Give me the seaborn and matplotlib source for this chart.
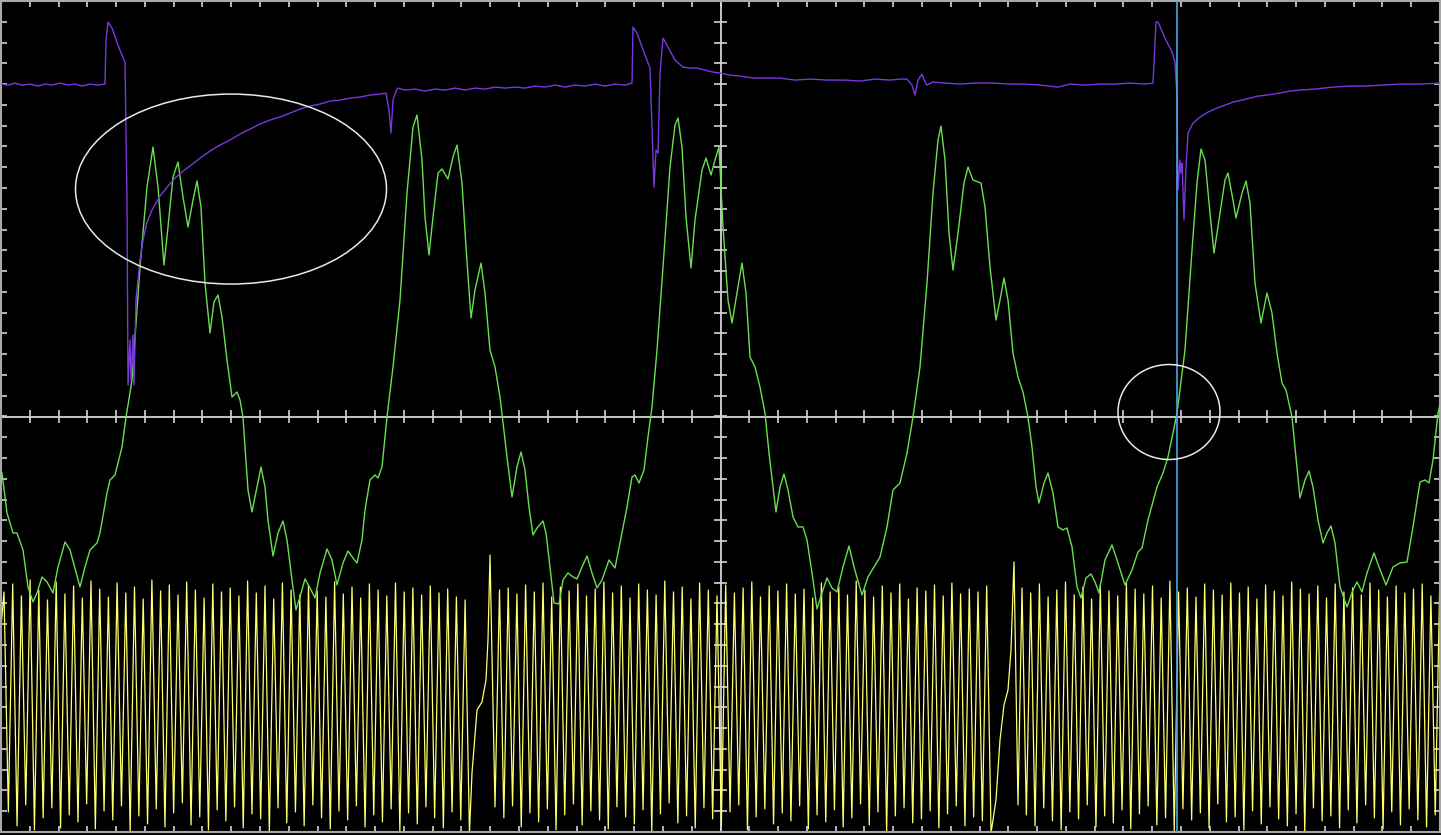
import numpy as np
import pandas as pd
import matplotlib
matplotlib.use("Agg")
import matplotlib.pyplot as plt
from matplotlib.patches import Ellipse
import seaborn as sns

# screen readings taken off the scope picture: time in screen columns, level in screen rows
# (converted to graticule divisions below)

# green trace
green_x = [0, 2, 7, 13, 17, 23, 28, 33, 37, 42, 47, 53, 58, 65, 70, 80, 85, 90, 97, 100,
           107, 110, 115, 118, 122, 126, 130, 132, 140, 147, 153, 158, 164, 168, 173, 178, 183,
           188, 193, 197, 201, 205, 210, 214, 218, 222, 227, 232, 237, 240, 243, 245, 248, 252,
           257, 261, 265, 268, 273, 278, 283, 287, 292, 296, 300, 305, 310, 315, 320, 327, 332,
           337, 343, 348, 353, 357, 362, 365, 370, 375, 378, 382, 387, 393, 400, 407, 413, 417,
           422, 425, 429, 433, 438, 442, 448, 453, 457, 462, 466, 471, 475, 481, 485, 490, 495,
           500, 503, 507, 512, 517, 521, 525, 529, 533, 537, 543, 546, 550, 554, 559, 563, 568,
           573, 577, 582, 587, 592, 597, 602, 609, 615, 620, 627, 632, 635, 639, 644, 648, 652,
           657, 663, 670, 675, 678, 682, 686, 691, 695, 702, 706, 711, 715, 719, 723, 728, 732,
           737, 742, 746, 750, 755, 760, 765, 769, 776, 780, 784, 788, 793, 798, 803, 807, 812,
           817, 822, 827, 832, 837, 843, 849, 854, 862, 868, 880, 887, 893, 900, 907, 913, 920,
           927, 933, 938, 941, 945, 949, 953, 958, 964, 968, 973, 981, 985, 990, 996, 1000, 1004,
           1008, 1013, 1018, 1023, 1028, 1032, 1036, 1039, 1044, 1048, 1053, 1058, 1063, 1067,
           1072, 1077, 1081, 1086, 1091, 1095, 1099, 1105, 1112, 1117, 1125, 1132, 1138, 1142,
           1148, 1157, 1163, 1168, 1173, 1177, 1185, 1192, 1197, 1201, 1205, 1210, 1214, 1220,
           1225, 1228, 1233, 1236, 1242, 1246, 1250, 1255, 1261, 1267, 1272, 1277, 1282, 1286,
           1292, 1296, 1300, 1305, 1309, 1313, 1318, 1323, 1327, 1331, 1335, 1340, 1347, 1353,
           1357, 1362, 1367, 1374, 1379, 1386, 1393, 1400, 1407, 1413, 1420, 1425, 1429, 1433,
           1438, 1441]
green_y = [470, 473, 513, 533, 533, 550, 587, 602, 593, 577, 582, 593, 567, 542, 550, 587, 567, 550, 543, 533,
           493, 480, 475, 463, 447, 417, 393, 380, 267, 187, 147, 187, 265, 227, 177, 162, 197,
           227, 200, 181, 207, 283, 333, 302, 295, 317, 360, 397, 392, 400, 417, 447, 490, 512,
           487, 467, 487, 520, 556, 533, 521, 540, 580, 610, 597, 579, 588, 598, 573, 549, 560,
           585, 563, 551, 558, 563, 540, 510, 480, 475, 478, 467, 417, 367, 300, 193, 127, 115,
           160, 217, 255, 217, 173, 169, 179, 157, 145, 183, 247, 318, 290, 263, 293, 350, 367,
           397, 423, 457, 497, 467, 452, 470, 507, 535, 528, 521, 533, 567, 603, 604, 580, 573,
           577, 579, 567, 556, 573, 588, 580, 560, 568, 543, 507, 477, 475, 483, 470, 437, 407,
           350, 267, 167, 125, 118, 147, 217, 268, 220, 170, 158, 175, 160, 147, 227, 300, 323,
           293, 263, 293, 357, 367, 387, 413, 453, 512, 487, 474, 490, 517, 527, 527, 540, 573,
           609, 593, 578, 588, 592, 567, 546, 567, 595, 577, 557, 527, 490, 483, 453, 417, 367,
           283, 193, 140, 126, 160, 233, 270, 233, 183, 167, 180, 183, 207, 267, 320, 300, 278,
           300, 353, 377, 392, 417, 447, 487, 503, 483, 473, 493, 527, 530, 528,
           547, 587, 598, 578, 574, 582, 593, 560, 545, 560, 585, 570, 552, 548,
           520, 487, 473, 457, 433, 413, 350, 250, 183, 149, 160, 213, 253, 213,
           180, 173, 200, 218, 193, 181, 203, 283, 323, 293, 313, 353, 383, 390,
           417, 457, 498, 480, 471, 487, 520, 543, 533, 526, 543, 587, 607, 590,
           582, 592, 573, 553, 567, 585, 567, 563, 562, 527, 482, 480, 483, 460,
           413, 400]

# purple trace
purple_x = [0, 8, 15, 22, 30, 38, 45, 52, 60, 68, 75, 82, 90, 98, 105,
            106, 108, 112, 118, 122, 125, 127, 128, 130, 131, 133, 134, 136, 138, 140, 143, 147,
            152, 160, 168, 175, 183, 190, 200, 210, 220, 230, 240, 250, 260, 270, 280, 290, 300,
            310, 320, 330, 340, 350, 360, 370, 380, 386, 389, 391, 393, 396, 398, 405, 415, 425,
            435, 445, 455, 465, 475, 485, 495, 505, 515, 525, 535, 545, 555, 565, 575, 585, 595,
            605, 615, 625, 632,
            633, 637, 645, 650, 653, 654, 656, 658, 660, 663, 667, 675, 683, 690, 697, 705, 713,
            720, 730, 740, 753, 765, 780, 795, 810, 827, 845, 860, 875, 890, 900, 907, 912, 915,
            918, 922, 925, 927, 933, 945, 960, 975, 993, 1010, 1025, 1040, 1058, 1070, 1085, 1100,
            1115, 1130, 1145, 1153,
            1156, 1158, 1165, 1172, 1175, 1177, 1178, 1180, 1181, 1182, 1184, 1186, 1188, 1193,
            1200, 1208, 1217, 1225, 1233, 1242, 1250, 1258, 1267, 1280, 1290, 1300, 1315, 1333,
            1350, 1365, 1383, 1400, 1420, 1441]
purple_y = [84, 85, 83, 85, 84, 86, 84, 85, 83, 85, 84, 86, 84, 85, 84,
            40, 22, 28, 45, 55, 62, 200, 385, 340, 380, 335, 385, 300, 280, 260, 240, 222,
            210, 196, 186, 178, 171, 166, 158, 151, 145, 140, 134, 129, 124, 120, 117, 113, 109,
            106, 104, 101, 100, 98, 97, 95, 94, 93, 110, 133, 100, 91, 88, 90, 89, 91,
            89, 90, 88, 90, 88, 89, 87, 88, 87, 88, 86, 87, 85, 87, 85, 86, 84,
            86, 84, 85, 83,
            27, 33, 55, 68, 157, 187, 150, 153, 73, 38, 45, 60, 67, 68, 68, 70, 72,
            73, 75, 76, 78, 78, 78, 80, 79, 80, 80, 81, 79, 80, 79, 79, 85, 95,
            80, 74, 82, 85, 82, 83, 84, 83, 83, 84, 84, 85, 87, 84, 85, 84,
            84, 83, 84, 83,
            22, 22, 38, 52, 62, 97, 190, 160, 173, 163, 220, 167, 133, 123,
            117, 112, 108, 105, 102, 100, 98, 96, 95, 93, 91, 90, 89, 87,
            86, 86, 85, 84, 84, 83]

# yellow trace: crest / trough levels of each cycle, three runs split by two glitches
yellow_period = 8.7
yellow_run_start = [4.0, 499.5, 1022.0]
yellow_tops = [
    [592, 584, 596, 580, 590, 600, 582, 594, 586, 598, 581, 589, 597, 583, 593, 587, 599, 580,
     591, 585, 595, 582, 590, 598, 584, 592, 588, 596, 581, 593, 586, 599, 583, 590, 595, 585,
     591, 597, 582, 594, 587, 598, 584, 590, 596, 583, 592, 588, 595, 586, 593, 589, 597, 600],
    [590, 588, 594, 585, 592, 583, 597, 587, 591, 584, 596, 589, 582, 593, 586, 598, 584, 590,
     595, 581, 592, 587, 599, 583, 590, 596, 585, 593, 588, 582, 597, 586, 591, 584, 594, 589,
     598, 583, 592, 587, 595, 581, 590, 597, 586, 593, 584, 599, 588, 591, 585, 596, 583, 594,
     589, 592, 586],
    [588, 593, 584, 597, 590, 582, 595, 587, 599, 585, 591, 596, 583, 589, 594, 586, 598, 581,
     592, 588, 597, 584, 590, 595, 583, 593, 587, 599, 585, 591, 596, 582, 589, 594, 586, 598,
     584, 592, 588, 595, 583, 590, 597, 586, 593, 589, 584, 596, 591],
]
yellow_bottoms = [
    [812, 826, 805, 830, 818, 808, 828, 815, 822, 804, 829, 811, 820, 806, 831, 816, 824, 809,
     827, 813, 803, 825, 817, 830, 810, 821, 807, 828, 814, 819, 832, 808, 823, 812, 826, 805,
     818, 829, 811, 820, 806, 827, 815, 822, 809, 831, 813, 824, 807, 818, 828, 812, 820, 833],
    [818, 806, 827, 813, 822, 809, 830, 815, 804, 825, 811, 820, 829, 807, 817, 824, 810, 831,
     814, 803, 823, 816, 828, 808, 819, 826, 812, 805, 830, 817, 809, 824, 813, 821, 806, 829,
     815, 822, 810, 827, 818, 804, 825, 812, 831, 816, 808, 823, 819, 811, 828, 814, 806, 826,
     817, 821, 833],
    [815, 826, 808, 821, 830, 812, 819, 805, 827, 816, 823, 810, 829, 814, 806, 825, 818, 831,
     809, 820, 813, 828, 804, 822, 817, 830, 811, 824, 807, 819, 826, 814, 832, 808, 821, 816,
     828, 810, 823, 805, 818, 829, 812, 825, 809, 820, 827, 815, 822],
]
glitch_x = [[472, 477, 482, 486, 488, 490, 495],
            [996, 1000, 1004, 1008, 1011, 1014, 1018]]
glitch_y = [[773, 710, 702, 680, 640, 555, 807],
            [800, 740, 705, 690, 650, 562, 805]]

cursor_col = 1177
ellipses = [(231, 189, 311, 190), (1169, 412, 102, 95)]  # centre col/row, width, height


def to_t(col):
    return (np.asarray(col, dtype=float) - 1.0) / 143.9


def to_v(row):
    return (416.5 - np.asarray(row, dtype=float)) / 103.9


# assemble yellow samples
yx, yy = [0.0], [640.0]
for i in range(3):
    for k, (hi, lo) in enumerate(zip(yellow_tops[i], yellow_bottoms[i])):
        t0 = yellow_run_start[i] + k * yellow_period
        yx += [t0, t0 + yellow_period / 2]
        yy += [hi, lo]
    if i < 2:
        yx += glitch_x[i]
        yy += glitch_y[i]

green = pd.DataFrame({"t": to_t(green_x), "v": to_v(green_y)})
purple = pd.DataFrame({"t": to_t(purple_x), "v": to_v(purple_y)})
yellow = pd.DataFrame({"t": to_t(yx), "v": to_v(yy)})

sns.set_theme(style="dark", rc={"axes.facecolor": "black", "figure.facecolor": "black"})

fig = plt.figure(figsize=(14.41, 8.35), dpi=100)
ax = fig.add_axes([1 / 1441, 3 / 835, 1439 / 1441, 831 / 835])
ax.set_xlim(0, 10)
ax.set_ylim(-4, 4)
ax.set_xticks([])
ax.set_yticks([])
ax.set_xlabel("")
ax.set_ylabel("")
for s in ax.spines.values():
    s.set_color("#a8a8a8")
    s.set_linewidth(1.5)

# graticule
gcol = "#d4d4d4"
ax.axhline(0, color=gcol, lw=1.3, zorder=1)
ax.axvline(5, color=gcol, lw=1.3, zorder=1)
xs = np.arange(0.2, 10, 0.2)
ys = np.arange(-3.8, 4, 0.2)
tv, th = 0.06, 0.042
ax.vlines(xs, 4 - tv, 4, color=gcol, lw=1.2, zorder=1)
ax.vlines(xs, -4, -4 + tv, color=gcol, lw=1.2, zorder=1)
ax.vlines(xs, -tv, tv, color=gcol, lw=1.2, zorder=1)
ax.hlines(ys, 0, th, color=gcol, lw=1.2, zorder=1)
ax.hlines(ys, 10 - th, 10, color=gcol, lw=1.2, zorder=1)
ax.hlines(ys, 5 - th, 5 + th, color=gcol, lw=1.2, zorder=1)

sns.lineplot(data=yellow, x="t", y="v", sort=False, estimator=None, color="#ffff70",
             lw=0.9, ax=ax, zorder=2)
sns.lineplot(data=green, x="t", y="v", sort=False, estimator=None, color="#68e050",
             lw=1.0, ax=ax, zorder=3)
sns.lineplot(data=purple, x="t", y="v", sort=False, estimator=None, color="#7a38e0",
             lw=1.0, ax=ax, zorder=4)

ax.axvline(float(to_t(cursor_col)), color="#4aa6e6", lw=1.2, zorder=5)

for cx, cy, w, h in ellipses:
    ax.add_patch(Ellipse((float(to_t(cx)), float(to_v(cy))), w / 143.9, h / 103.9,
                         fill=False, edgecolor="#e8e8e8", lw=1.1, zorder=6))

ax.set_xlabel("")
ax.set_ylabel("")
fig.savefig("out.png", dpi=100, facecolor="black")
